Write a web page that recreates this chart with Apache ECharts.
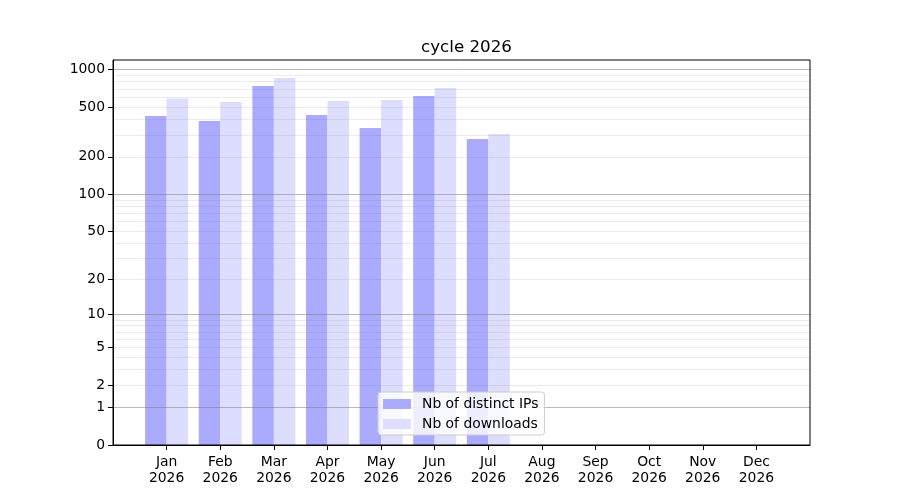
<!DOCTYPE html>
<html>
<head>
<meta charset="utf-8">
<script src="https://cdn.jsdelivr.net/npm/echarts@6/dist/echarts.min.js"></script>
<style>html,body{margin:0;padding:0;background:#fff}#c{width:900px;height:500px}</style>
</head>
<body>
<div id="c"></div>
<script>
const titleText = 'cycle 2026';
const months = ['Jan','Feb','Mar','Apr','May','Jun','Jul','Aug','Sep','Oct','Nov','Dec'];
const yearLabel = '2026';
const distinctIPs = [425, 388, 740, 434, 341, 616, 278, null, null, null, null, null];
const downloads   = [586, 551, 858, 561, 572, 714, 305, null, null, null, null, null];
const yTickValues = [0, 1, 2, 5, 10, 20, 50, 100, 200, 500, 1000];
const majorGrid = [1, 10, 100, 1000];
const minorGrid = [2,3,4,5,6,7,8,9,20,30,40,50,60,70,80,90,200,300,400,500,600,700,800,900];
const seriesNames = ['Nb of distinct IPs', 'Nb of downloads'];

// y scale is log10(v + 1): shift values by one and use a log axis
const shift = v => (v == null ? '-' : v + 1);
const cats = [''].concat(months).concat(['']);
const pad = arr => ['-'].concat(arr.map(shift)).concat(['-']);

const gridLines = majorGrid.map(v => ({ yAxis: v + 1, lineStyle: { color: 'rgba(128,128,128,0.55)', width: 1, type: 'solid' } }))
  .concat(minorGrid.map(v => ({ yAxis: v + 1, lineStyle: { color: 'rgba(128,128,128,0.15)', width: 1, type: 'solid' } })));

const chart = echarts.init(document.getElementById('c'), null, { renderer: 'canvas' });
chart.setOption({
  animation: false,
  title: {
    text: titleText, left: 461.5, textAlign: 'center', top: 34,
    textStyle: { fontFamily: 'DejaVu Sans', fontSize: 16.7, fontWeight: 'normal', color: '#000' }
  },
  grid: { left: 113, right: 90, top: 60, bottom: 55, show: true, borderColor: '#000', borderWidth: 1, backgroundColor: 'transparent', z: 10 },
  legend: {
    orient: 'vertical', left: 378, top: 392, z: 20,
    icon: 'rect', itemWidth: 28, itemHeight: 10, itemGap: 6,
    padding: [5, 6, 4, 5],
    borderColor: '#cccccc', borderWidth: 1, borderRadius: 3,
    backgroundColor: 'rgba(255,255,255,0.8)',
    textStyle: { fontFamily: 'DejaVu Sans', fontSize: 13.9, color: '#000', padding: [0, 0, 0, 6] },
    data: seriesNames
  },
  xAxis: {
    type: 'category', data: cats, boundaryGap: false,
    axisLine: { show: true, lineStyle: { color: '#000' } },
    axisTick: { show: true, length: 5, lineStyle: { color: '#000' }, interval: (i, v) => v !== '' },
    axisLabel: {
      interval: (i, v) => v !== '',
      formatter: v => (v === '' ? '' : v + '\n' + yearLabel),
      fontFamily: 'DejaVu Sans', fontSize: 13.9, color: '#000', lineHeight: 16, margin: 9
    },
    splitLine: { show: false }
  },
  yAxis: {
    type: 'log', logBase: 10, min: 1, max: 1195,
    axisLine: { show: true, lineStyle: { color: '#000' } },
    axisTick: { show: true, length: 5, inside: false, lineStyle: { color: '#000' }, customValues: yTickValues.map(v => v + 1) },
    axisLabel: {
      customValues: yTickValues.map(v => v + 1),
      formatter: v => String(Math.round(v - 1)),
      fontFamily: 'DejaVu Sans', fontSize: 13.9, color: '#000', margin: 8
    },
    splitLine: { show: false },
    minorTick: { show: false },
    minorSplitLine: { show: false }
  },
  series: [
    {
      name: seriesNames[0], type: 'bar', data: pad(distinctIPs),
      barWidth: 21.5, barGap: '0%', z: 2,
      itemStyle: { color: '#aaaaff' }
    },
    {
      name: seriesNames[1], type: 'bar', data: pad(downloads),
      barWidth: 21.5, barGap: '0%', z: 2,
      itemStyle: { color: '#ddddff' }
    },
    {
      name: 'grid', type: 'line', data: [], z: 5, silent: true,
      markLine: { silent: true, symbol: 'none', label: { show: false }, data: gridLines, animation: false }
    }
  ]
});
</script>
</body>
</html>
